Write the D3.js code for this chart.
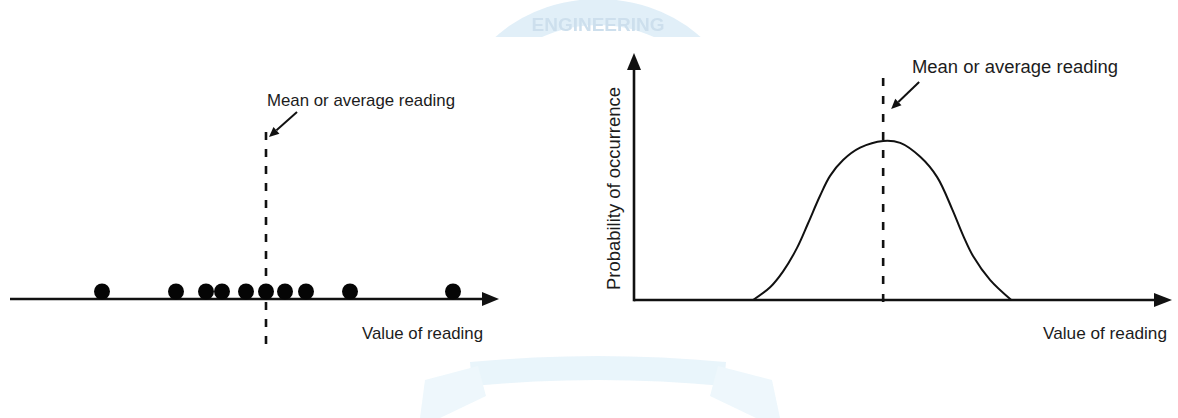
<!DOCTYPE html>
<html>
<head>
<meta charset="utf-8">
<script src="https://cdn.jsdelivr.net/npm/d3@7"></script>
<style>
  html, body { margin: 0; padding: 0; background: #fff; }
  svg { display: block; }
  text { font-family: "Liberation Sans", Arial, sans-serif; fill: #1c1c1c; }
</style>
</head>
<body>
<svg id="chart" width="1178" height="418"></svg>
<script>
// ---------- data ----------
// Left panel: individual readings (arbitrary reading units) and their mean
const readings = [1.8, 5.5, 7.0, 7.8, 9.0, 10.0, 10.95, 12.0, 14.2, 19.35];
const meanReading = 10.0;
// Right panel: probability-of-occurrence curve (reading value, probability)
const curveValues = [0.0, 1.31, 2.31, 3.38, 4.23, 5.15, 5.92, 6.92, 8.23, 10.0,
                     11.31, 12.85, 14.15, 15.31, 16.15, 16.92, 18.23, 19.85];
const curveProb   = [0.0, 0.032, 0.072, 0.131, 0.193, 0.262, 0.312, 0.352, 0.383, 0.400,
                     0.395, 0.360, 0.309, 0.228, 0.162, 0.110, 0.050, 0.0];
// Texts
const meanLabel = "Mean or average reading";
const xLabel = "Value of reading";
const yLabel = "Probability of occurrence";

// ---------- setup ----------
const svg = d3.select("#chart");
const INK = "#111";

// watermark (faint decoration)
const wm = svg.append("g").attr("opacity", 0.45);
wm.append("clipPath").attr("id", "wmTop").append("rect")
  .attr("x", 440).attr("y", 0).attr("width", 320).attr("height", 37);
wm.append("ellipse").attr("cx", 598).attr("cy", 120).attr("rx", 128).attr("ry", 108)
  .attr("fill", "none").attr("stroke", "#bcdcf0").attr("stroke-width", 26)
  .attr("clip-path", "url(#wmTop)");
wm.append("text").attr("x", 598).attr("y", 31).attr("text-anchor", "middle")
  .style("font-size", "19px").style("font-weight", "bold").style("fill", "#8fb8d6")
  .attr("clip-path", "url(#wmTop)").text("ENGINEERING");
// bottom ribbon
wm.append("path").attr("fill", "#cfe8f6")
  .attr("d", "M470,362 Q598,350 726,362 L724,386 Q598,374 472,386 Z");
wm.append("path").attr("fill", "#d8eef8")
  .attr("d", "M425,380 L478,366 L486,396 L440,418 L420,418 Z");
wm.append("path").attr("fill", "#d8eef8")
  .attr("d", "M772,380 L718,366 L710,396 L756,418 L780,418 Z");

// ---------- helpers ----------
function axisArrow(g, x1, y1, x2, y2, len, half) {
  const ang = Math.atan2(y2 - y1, x2 - x1);
  const bx = x2 - len * Math.cos(ang), by = y2 - len * Math.sin(ang);
  g.append("line").attr("x1", x1).attr("y1", y1).attr("x2", bx).attr("y2", by)
    .attr("stroke", INK).attr("stroke-width", 2.6);
  const px = -Math.sin(ang) * half, py = Math.cos(ang) * half;
  g.append("path")
    .attr("d", `M${x2},${y2} L${bx + px},${by + py} L${bx - px},${by - py} Z`)
    .attr("fill", INK);
}
function pointer(g, x1, y1, x2, y2) {
  const len = 10, half = 4.5;
  const ang = Math.atan2(y2 - y1, x2 - x1);
  const bx = x2 - len * Math.cos(ang), by = y2 - len * Math.sin(ang);
  g.append("line").attr("x1", x1).attr("y1", y1).attr("x2", bx).attr("y2", by)
    .attr("stroke", INK).attr("stroke-width", 2);
  const px = -Math.sin(ang) * half, py = Math.cos(ang) * half;
  g.append("path")
    .attr("d", `M${x2},${y2} L${bx + px},${by + py} L${bx - px},${by - py} Z`)
    .attr("fill", INK);
}

// ---------- left panel ----------
const gL = svg.append("g");
const xL = d3.scaleLinear().domain([-2.8, 21.65]).range([10, 499]);
const axisYL = 299;

axisArrow(gL, xL.range()[0], axisYL, xL.range()[1], axisYL, 17, 7);

gL.append("line")
  .attr("x1", xL(meanReading)).attr("x2", xL(meanReading))
  .attr("y1", 132).attr("y2", 348)
  .attr("stroke", INK).attr("stroke-width", 2.6)
  .attr("stroke-dasharray", "8,9");

gL.selectAll("circle.reading").data(readings).join("circle")
  .attr("class", "reading")
  .attr("cx", d => xL(d)).attr("cy", axisYL - 7.5).attr("r", 8)
  .attr("fill", "#050505");

pointer(gL, xL(meanReading) + 31, 112, xL(meanReading) + 3, 137);
gL.append("text").attr("x", xL(meanReading) + 1).attr("y", 106)
  .attr("textLength", 188).attr("lengthAdjust", "spacingAndGlyphs")
  .style("font-size", "17px").text(meanLabel);
gL.append("text").attr("x", 362).attr("y", 339)
  .attr("textLength", 121).attr("lengthAdjust", "spacingAndGlyphs")
  .style("font-size", "17px").text(xLabel);

// ---------- right panel ----------
const gR = svg.append("g");
const xR = d3.scaleLinear().domain([-9.15, 32.2]).range([634, 1172]);
const yR = d3.scaleLinear().domain([0, 0.621]).range([300, 53]);

axisArrow(gR, xR.range()[0], yR(0), xR.range()[1], yR(0), 18, 7);
axisArrow(gR, xR.range()[0], yR(0) + 1.3, xR.range()[0], yR.range()[1], 17, 7);

const pts = curveValues.map((v, i) => [v, curveProb[i]]);
gR.append("path").datum(pts)
  .attr("fill", "none").attr("stroke", INK).attr("stroke-width", 2)
  .attr("d", d3.line().x(d => xR(d[0])).y(d => yR(d[1])).curve(d3.curveCatmullRom.alpha(0.5)));

gR.append("line")
  .attr("x1", xR(meanReading)).attr("x2", xR(meanReading))
  .attr("y1", 78).attr("y2", 312)
  .attr("stroke", INK).attr("stroke-width", 2.6)
  .attr("stroke-dasharray", "8,10");

pointer(gR, xR(meanReading) + 36, 82, xR(meanReading) + 8, 109);
gR.append("text").attr("x", 912).attr("y", 73)
  .attr("textLength", 206).attr("lengthAdjust", "spacingAndGlyphs")
  .style("font-size", "17.5px").text(meanLabel);
gR.append("text").attr("x", 1043).attr("y", 339)
  .attr("textLength", 124).attr("lengthAdjust", "spacingAndGlyphs")
  .style("font-size", "17px").text(xLabel);
gR.append("text")
  .attr("transform", "translate(620,290) rotate(-90)")
  .attr("textLength", 203).attr("lengthAdjust", "spacingAndGlyphs")
  .style("font-size", "17.5px").text(yLabel);
</script>
</body>
</html>
